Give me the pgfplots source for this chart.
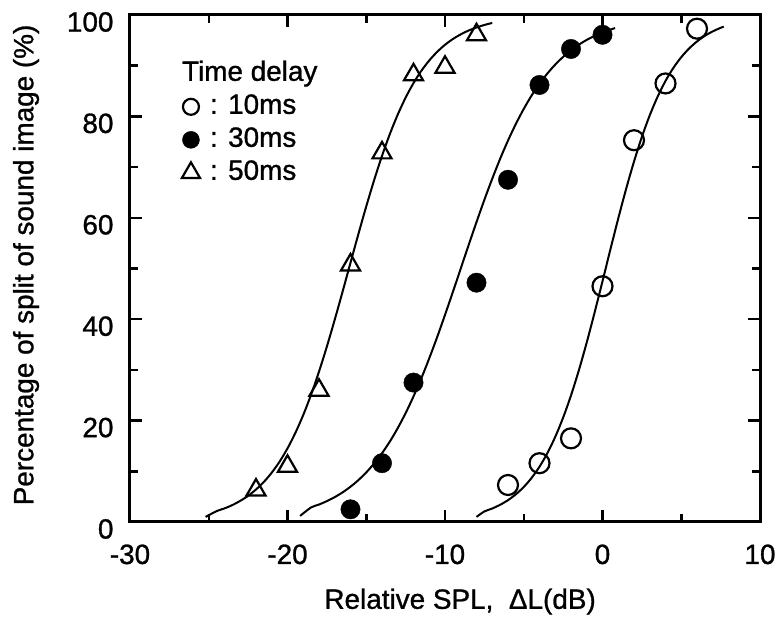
\documentclass[border=0pt]{standalone}
\usepackage{pgfplots}
\pgfplotsset{compat=1.18}
\usepackage{fontspec}
\setmainfont{Liberation Sans}[FakeBold=1]
\begin{document}
\begin{tikzpicture}[x=1bp,y=1bp]
\useasboundingbox (-130,-98) rectangle (649,522);
\begin{axis}[
  at={(0,0)}, anchor=south west,
  width=630bp, height=507bp, scale only axis,
  xmin=-30, xmax=10, ymin=0, ymax=100,
  xtick={-30,-20,...,10}, minor xtick={-25,-15,...,5},
  ytick={0,20,...,100}, minor ytick={10,30,...,90},
  tick align=inside, major tick length=12bp, minor tick length=8bp,
  axis line style={line width=3bp},
  every tick/.style={line width=2.5bp, black},
  /pgf/number format/assume math mode=true,
  tick label style={font=\fontsize{28}{32}\selectfont},
  yticklabel style={yshift=-7bp, xshift=-13bp},
  xticklabel style={yshift=-19bp},
  xlabel={Relative SPL,\ \ ΔL(dB)},
  ylabel={Percentage of split of sound image (\%)},
  label style={font=\fontsize{28}{32}\selectfont},
  xlabel style={at={(axis description cs:0.524,-0.157)}, anchor=center},
  ylabel style={at={(axis description cs:-0.165,0.507)}, anchor=center},
  legend style={draw=none, fill=none, at={(axis description cs:0.082,0.91)}, anchor=north west,
    font=\fontsize{28}{32}\selectfont, inner sep=0pt, row sep=7bp, column sep=10bp,
    nodes={inner sep=0pt, text height=20bp, text depth=6bp}},
  legend cell align=left,
]
% 50 ms curve
\addplot[line width=2bp, smooth, forget plot] coordinates {
(-25.2,1.0)(-24.5,2.15)(-24,2.68)(-23.5,3.34)(-23,4.17)(-22.5,5.17)(-22,6.41)(-21.5,7.91)
(-21,9.74)(-20.5,11.92)(-20,14.52)(-19.5,17.58)(-19,21.11)(-18.5,25.14)(-18,29.66)(-17.5,34.61)
(-17,39.92)(-16.5,45.46)(-16,51.14)(-15.5,56.78)(-15,62.25)(-14.5,67.42)(-14,72.21)(-13.5,76.53)
(-13,80.36)(-12.5,83.70)(-12,86.57)(-11.5,89.00)(-11,91.03)(-10.5,92.72)(-10,94.12)(-9.5,95.26)
(-9,96.18)(-8.5,96.94)(-8,97.54)(-7.5,98.03)(-7,98.43)};
% 30 ms curve
\addplot[line width=2bp, smooth, forget plot] coordinates {
(-19.2,1.2)(-18.5,2.88)(-18,3.44)(-17.5,4.12)(-17,4.91)(-16.5,5.85)(-16,6.96)(-15.5,8.26)
(-15,9.78)(-14.5,11.54)(-14,13.57)(-13.5,15.88)(-13,18.52)(-12.5,21.48)(-12,24.77)(-11.5,28.37)
(-11,32.29)(-10.5,36.45)(-10,40.85)(-9.5,45.38)(-9,50)(-8.5,54.62)(-8,59.15)(-7.5,63.55)
(-7,67.71)(-6.5,71.63)(-6,75.23)(-5.5,78.52)(-5,81.48)(-4.5,84.12)(-4,86.43)(-3.5,88.46)
(-3,90.22)(-2.5,91.74)(-2,93.04)(-1.5,94.15)(-1,95.09)(-0.5,95.88)(0,96.56)(0.5,97.12)(0.8,97.42)};
% 10 ms curve
\addplot[line width=2bp, smooth, forget plot] coordinates {
(-8,1.0)(-7.5,2.08)(-7,2.66)(-6.5,3.39)(-6,4.31)(-5.5,5.47)(-5,6.91)(-4.5,8.70)
(-4,10.91)(-3.5,13.59)(-3,16.80)(-2.5,20.59)(-2,24.97)(-1.5,29.94)(-1,35.43)(-0.5,41.34)
(0,47.50)(0.5,53.74)(1,59.87)(1.5,65.70)(2,71.09)(2.5,75.95)(3,80.22)(3.5,83.89)
(4,86.99)(4.5,89.57)(5,91.68)(5.5,93.40)(6,94.78)(6.5,95.89)(7,96.77)(7.5,97.47)(7.7,97.70)};
\addlegendimage{empty legend}
\addlegendentry{\hspace*{-28bp}Time delay}
% 10 ms data
\addplot[only marks, mark=o, mark size=10bp, line width=2.2bp,
  legend image code/.code={\draw[mark=o, mark size=8bp, line width=2.2bp] plot coordinates {(0,0)};}]
  coordinates {(-6,7.3)(-4,11.6)(-2,16.5)(0,46.5)(2,75.3)(4,86.5)(6,97.3)};
\addlegendentry{: 10ms}
% 30 ms data
\addplot[only marks, mark=*, mark size=9.7bp, black,
  legend image code/.code={\draw[mark=*, mark size=8.5bp, black] plot coordinates {(0,0)};}]
  coordinates {(-16,2.5)(-14,11.6)(-12,27.5)(-8,47.2)(-6,67.5)(-4,86.2)(-2,93.3)(0,96.1)};
\addlegendentry{: 30ms}
% 50 ms data
\addplot[only marks, mark=triangle, mark size=11bp, line width=2.2bp,
  legend image code/.code={\draw[mark=triangle, mark size=10.5bp, line width=2.2bp] plot coordinates {(0,0)};}]
  coordinates {(-22,6.3)(-20,11)(-18,26)(-16,50.7)(-14,72.8)(-12,88.2)(-10,89.7)(-8,96.1)};
\addlegendentry{: 50ms}
\end{axis}
\end{tikzpicture}
\end{document}
